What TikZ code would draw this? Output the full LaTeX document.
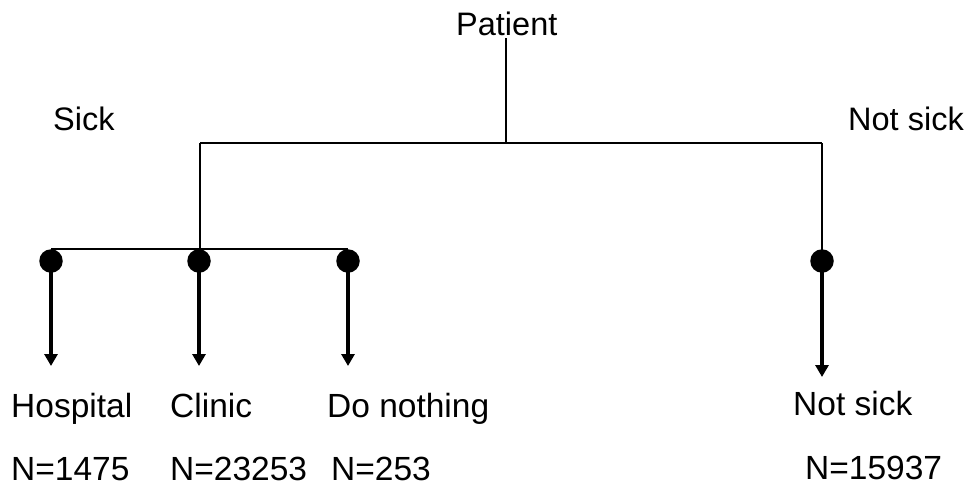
\documentclass[tikz,border=0pt]{standalone}
\usepackage{fontspec}
\setmainfont{Liberation Sans}
\usetikzlibrary{arrows.meta}
\begin{document}
\begin{tikzpicture}[x=1pt,y=-1pt,
  toplabel/.style={anchor=base west,inner sep=0pt,font=\fontsize{32.5}{36}\selectfont},
  botlabel/.style={anchor=base west,inner sep=0pt,font=\fontsize{33.5}{37}\selectfont},
  thin line/.style={line width=1.3pt},
  branchdot/.style={circle,fill=black,inner sep=0pt,minimum size=23.5pt},
  outcome/.style={line width=4pt,-{Triangle[width=13pt,length=12pt]}}]
\useasboundingbox (0,0) rectangle (971,496);

% tree labels
\node[toplabel] (patient) at (456,35) {Patient};
\node[toplabel] (sick) at (53,130) {Sick};
\node[toplabel] (notsicktop) at (848,130) {Not sick};

% junction points of the tree
\coordinate (root) at (506,38);
\coordinate (split) at (506,143);
\coordinate (sickjoint) at (200,143);
\coordinate (healthyjoint) at (822,143);
\coordinate (sickbar) at (200,249);
\coordinate (barleft) at (51,249);
\coordinate (barright) at (348,249);

% decision dots
\node[branchdot] (hosp) at (51,261) {};
\node[branchdot] (clin) at (199,261) {};
\node[branchdot] (none) at (348,261) {};
\node[branchdot] (well) at (822,261) {};

% arrow ends
\coordinate (hospend) at (51,366);
\coordinate (clinend) at (199,366);
\coordinate (noneend) at (348,366);
\coordinate (wellend) at (822,377);

% thin tree lines
\draw[thin line] (root) -- (split);
\draw[thin line] (sickjoint) -- (healthyjoint);
\draw[thin line] (sickjoint) -- (sickbar);
\draw[thin line] (barleft) -- (barright);
\draw[thin line] (healthyjoint) -- (well.center);

% outcome arrows
\draw[outcome] (hosp.center) -- (hospend);
\draw[outcome] (clin.center) -- (clinend);
\draw[outcome] (none.center) -- (noneend);
\draw[outcome] (well.center) -- (wellend);

% outcome labels and counts
\node[botlabel] (hosplabel) at (11,417) {Hospital};
\node[botlabel] (cliniclabel) at (170,417) {Clinic};
\node[botlabel] (nonelabel) at (327,417) {Do nothing};
\node[botlabel] (welllabel) at (793,415) {Not sick};
\node[botlabel] (hospn) at (11,480) {N=1475};
\node[botlabel] (clinicn) at (170,480) {N=23253};
\node[botlabel] (nonen) at (331,480) {N=253};
\node[botlabel] (welln) at (805,479) {N=15937};
\end{tikzpicture}
\end{document}
